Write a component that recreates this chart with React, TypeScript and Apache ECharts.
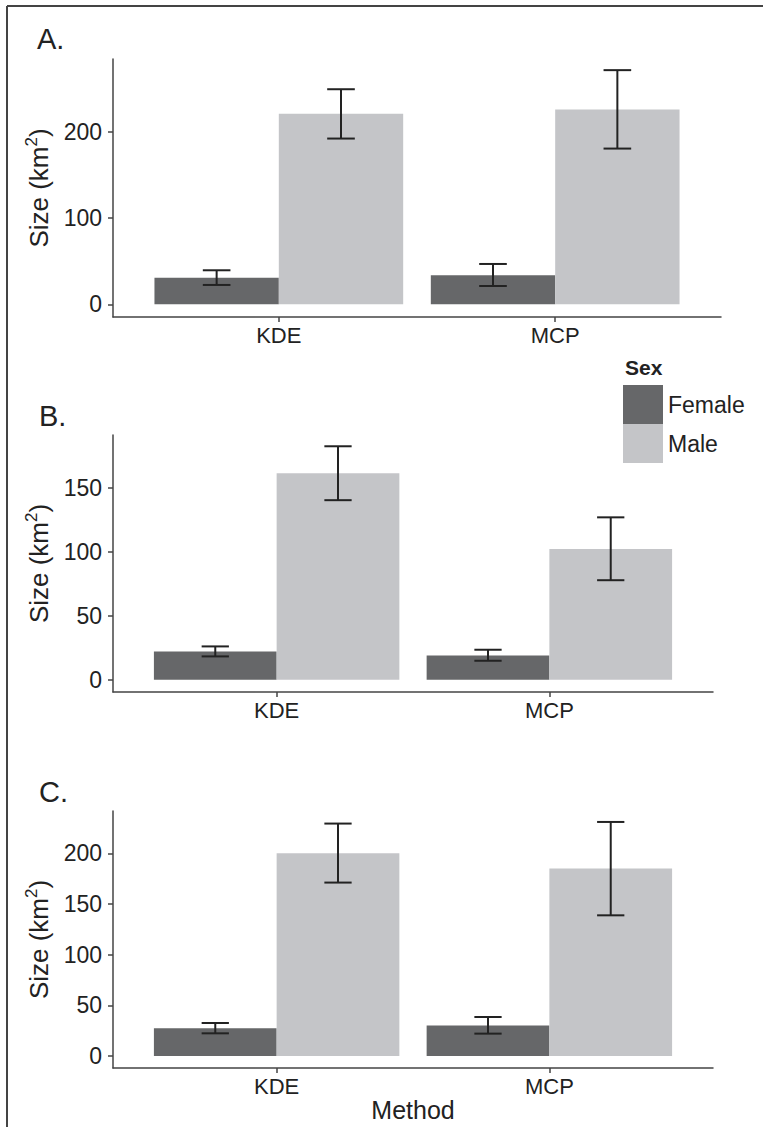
import React, { useEffect, useRef } from 'react';
import * as echarts from 'echarts';

const methods = ['KDE', 'MCP'];
const sexes = ['Female', 'Male'];
const panelLabels = ['A.', 'B.', 'C.'];

// Panel A
const femaleMeanA = [30.8, 33.6];
const femaleLowA = [22.4, 21.2];
const femaleHighA = [39.4, 46.7];
const maleMeanA = [220.5, 225.5];
const maleLowA = [191.9, 180.3];
const maleHighA = [249.0, 271.1];
const yTicksA = [0, 100, 200];

// Panel B
const femaleMeanB = [22.1, 19.0];
const femaleLowB = [18.2, 14.8];
const femaleHighB = [26.0, 23.4];
const maleMeanB = [161.2, 102.0];
const maleLowB = [140.2, 77.7];
const maleHighB = [182.3, 126.8];
const yTicksB = [0, 50, 100, 150];

// Panel C
const femaleMeanC = [27.3, 30.0];
const femaleLowC = [22.4, 22.1];
const femaleHighC = [32.6, 38.5];
const maleMeanC = [200.0, 184.9];
const maleLowC = [171.1, 138.8];
const maleHighC = [229.3, 230.9];
const yTicksC = [0, 50, 100, 150, 200];

const yLimits = [
  [-14.7, 284],
  [-9.6, 191.1],
  [-11.8, 241.7],
];

const FONT = 'Liberation Sans, Arial, Helvetica, sans-serif';
const FEMALE_COLOR = '#666769';
const MALE_COLOR = '#c4c5c8';
const AXIS_COLOR = '#444444';
const TEXT_COLOR = '#222222';

const panels = [
  { fm: femaleMeanA, fl: femaleLowA, fh: femaleHighA, mm: maleMeanA, ml: maleLowA, mh: maleHighA, ticks: yTicksA },
  { fm: femaleMeanB, fl: femaleLowB, fh: femaleHighB, mm: maleMeanB, ml: maleLowB, mh: maleHighB, ticks: yTicksB },
  { fm: femaleMeanC, fl: femaleLowC, fh: femaleHighC, mm: maleMeanC, ml: maleLowC, mh: maleHighC, ticks: yTicksC },
];

const grids = [
  { left: 113, top: 59, width: 608, height: 258 },
  { left: 113, top: 435, width: 600, height: 257 },
  { left: 113, top: 811, width: 600, height: 257 },
];

const labelPos = [
  { x: 37, y: 39 },
  { x: 39, y: 416 },
  { x: 39, y: 792 },
];

const BAR_FRAC = 0.45;
const xCats = methods.map((_, j) => j + 1);

function errorRender(params: any, api: any) {
  const x = api.value(0);
  const lo = api.coord([x, api.value(1)]);
  const hi = api.coord([x, api.value(2)]);
  const half = api.size([0.1, 0])[0] / 2;
  const style = { stroke: '#222222', lineWidth: 2 };
  return {
    type: 'group',
    children: [
      { type: 'line', shape: { x1: lo[0], y1: lo[1], x2: hi[0], y2: hi[1] }, style },
      { type: 'line', shape: { x1: hi[0] - half, y1: hi[1], x2: hi[0] + half, y2: hi[1] }, style },
      { type: 'line', shape: { x1: lo[0] - half, y1: lo[1], x2: lo[0] + half, y2: lo[1] }, style },
    ],
  };
}

export default function App() {
  const ref = useRef<HTMLDivElement>(null);

  useEffect(() => {
    if (!ref.current) return;
    const chart = echarts.init(ref.current, undefined, { renderer: 'svg' });

    const xAxis: any[] = [];
    const yAxis: any[] = [];
    const series: any[] = [];

    panels.forEach((p, i) => {
      xAxis.push({
        gridIndex: i,
        type: 'value',
        min: 0.4,
        max: 2.6,
        splitLine: { show: false },
        axisLine: { show: true, onZero: false, lineStyle: { color: AXIS_COLOR, width: 1.5 } },
        axisTick: { show: true, length: 5, customValues: xCats, lineStyle: { color: AXIS_COLOR, width: 1.5 } },
        axisLabel: {
          customValues: xCats,
          formatter: (v: number) => methods[Math.round(v) - 1] ?? '',
          fontSize: 22,
          color: TEXT_COLOR,
          fontFamily: FONT,
          margin: 7,
        },
        name: i === 2 ? 'Method' : '',
        nameLocation: 'middle',
        nameGap: 28,
        nameTextStyle: { fontSize: 25, color: TEXT_COLOR, fontFamily: FONT },
      });
      yAxis.push({
        gridIndex: i,
        type: 'value',
        min: yLimits[i][0],
        max: yLimits[i][1],
        splitLine: { show: false },
        axisLine: { show: true, onZero: false, lineStyle: { color: AXIS_COLOR, width: 1.5 } },
        axisTick: { show: true, length: 5, customValues: p.ticks, lineStyle: { color: AXIS_COLOR, width: 1.5 } },
        axisLabel: {
          customValues: p.ticks,
          fontSize: 23,
          color: TEXT_COLOR,
          fontFamily: FONT,
          margin: 11,
        },
        name: '{a|Size (km}{s|2}{a|)}',
        nameLocation: 'middle',
        nameRotate: 90,
        nameGap: 58,
        nameTextStyle: {
          fontSize: 26,
          color: TEXT_COLOR,
          fontFamily: FONT,
          rich: {
            a: { fontSize: 26, color: TEXT_COLOR, fontFamily: FONT, lineHeight: 32 },
            s: { fontSize: 17, color: TEXT_COLOR, fontFamily: FONT, verticalAlign: 'top', lineHeight: 32 },
          },
        },
      });

      series.push({
        type: 'bar',
        name: sexes[0],
        xAxisIndex: i,
        yAxisIndex: i,
        data: xCats.map((x, j) => [x, p.fm[j]]),
        barWidth: `${BAR_FRAC * 100}%`,
        barGap: '0%',
        itemStyle: { color: FEMALE_COLOR },
        z: 2,
      });
      series.push({
        type: 'bar',
        name: sexes[1],
        xAxisIndex: i,
        yAxisIndex: i,
        data: xCats.map((x, j) => [x, p.mm[j]]),
        barWidth: `${BAR_FRAC * 100}%`,
        barGap: '0%',
        itemStyle: { color: MALE_COLOR },
        z: 2,
      });
      series.push({
        type: 'custom',
        name: 'err-female-' + i,
        xAxisIndex: i,
        yAxisIndex: i,
        renderItem: errorRender,
        data: xCats.map((x, j) => [x - BAR_FRAC / 2, p.fl[j], p.fh[j]]),
        z: 5,
        silent: true,
      });
      series.push({
        type: 'custom',
        name: 'err-male-' + i,
        xAxisIndex: i,
        yAxisIndex: i,
        renderItem: errorRender,
        data: xCats.map((x, j) => [x + BAR_FRAC / 2, p.ml[j], p.mh[j]]),
        z: 5,
        silent: true,
      });
    });

    const graphic: any[] = [
      { type: 'line', shape: { x1: 7, y1: 6, x2: 763, y2: 6 }, style: { stroke: AXIS_COLOR, lineWidth: 2 } },
      { type: 'line', shape: { x1: 7, y1: 6, x2: 7, y2: 1127 }, style: { stroke: AXIS_COLOR, lineWidth: 2 } },
      {
        type: 'text',
        x: 625,
        y: 367,
        style: { text: 'Sex', fontSize: 21, fontWeight: 'bold', fill: TEXT_COLOR, fontFamily: FONT, verticalAlign: 'middle' },
      },
    ];
    panelLabels.forEach((t, i) => {
      graphic.push({
        type: 'text',
        x: labelPos[i].x,
        y: labelPos[i].y,
        style: { text: t, fontSize: 29, fill: TEXT_COLOR, fontFamily: FONT, verticalAlign: 'middle' },
      });
    });

    chart.setOption({
      animation: false,
      backgroundColor: '#ffffff',
      grid: grids,
      xAxis,
      yAxis,
      series,
      legend: {
        data: sexes,
        orient: 'vertical',
        left: 623,
        top: 385,
        itemWidth: 40,
        itemHeight: 39,
        itemGap: 0,
        icon: 'rect',
        padding: 0,
        selectedMode: false,
        itemStyle: { borderWidth: 0 },
        textStyle: { fontSize: 23, color: TEXT_COLOR, fontFamily: FONT },
      },
      graphic,
    });

    return () => chart.dispose();
  }, []);

  return (
    <div
      ref={ref}
      style={{ position: 'absolute', left: 0, top: 0, width: 763, height: 1127, background: '#fff' }}
    />
  );
}
